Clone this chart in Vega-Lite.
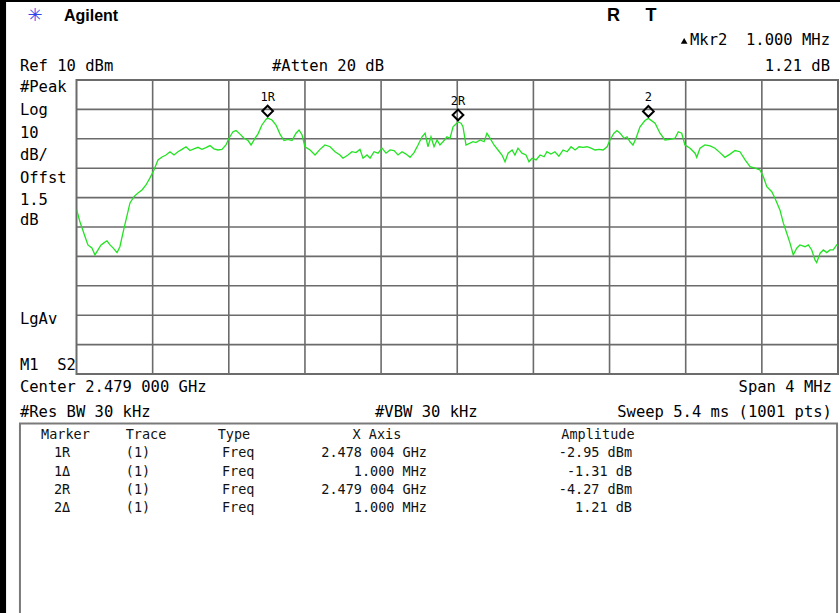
{
  "$schema": "https://vega.github.io/schema/vega-lite/v6.json",
  "width": 761.5,
  "height": 294,
  "autosize": {"type": "none"},
  "padding": {"left": 76.5, "top": 80, "right": 2, "bottom": 239},
  "background": "white",
  "config": {
    "view": {"stroke": "#6b6b6b", "strokeWidth": 2},
    "text": {"font": "DejaVu Sans Mono", "fontSize": 15.5, "color": "#000", "baseline": "middle"}
  },
  "datasets": {
    "trace": [
      {"f":2477.001,"dbm":-34.2},{"f":2477.018,"dbm":-38.2},{"f":2477.045,"dbm":-43.3},{"f":2477.060,"dbm":-46.1},{"f":2477.081,"dbm":-47.1},{"f":2477.097,"dbm":-49.5},{"f":2477.113,"dbm":-47.8},{"f":2477.129,"dbm":-46.1},{"f":2477.144,"dbm":-45.4},{"f":2477.160,"dbm":-44.7},{"f":2477.176,"dbm":-46.1},{"f":2477.192,"dbm":-47.1},{"f":2477.213,"dbm":-48.7},{"f":2477.228,"dbm":-46.7},{"f":2477.244,"dbm":-42.0},{"f":2477.260,"dbm":-37.6},{"f":2477.281,"dbm":-31.8},{"f":2477.302,"dbm":-29.7},{"f":2477.323,"dbm":-28.4},{"f":2477.344,"dbm":-27.4},{"f":2477.365,"dbm":-25.7},{"f":2477.386,"dbm":-23.3},{"f":2477.407,"dbm":-20.6},{"f":2477.428,"dbm":-17.2},{"f":2477.449,"dbm":-16.2},{"f":2477.470,"dbm":-15.5},{"f":2477.491,"dbm":-14.4},{"f":2477.512,"dbm":-15.5},{"f":2477.533,"dbm":-14.4},{"f":2477.554,"dbm":-13.6},{"f":2477.575,"dbm":-12.7},{"f":2477.596,"dbm":-14.0},{"f":2477.617,"dbm":-13.4},{"f":2477.638,"dbm":-12.9},{"f":2477.659,"dbm":-13.6},{"f":2477.680,"dbm":-13.0},{"f":2477.701,"dbm":-12.3},{"f":2477.722,"dbm":-13.4},{"f":2477.743,"dbm":-13.8},{"f":2477.764,"dbm":-13.6},{"f":2477.785,"dbm":-12.1},{"f":2477.801,"dbm":-9.8},{"f":2477.822,"dbm":-7.6},{"f":2477.838,"dbm":-7.2},{"f":2477.859,"dbm":-8.4},{"f":2477.880,"dbm":-9.8},{"f":2477.901,"dbm":-10.6},{"f":2477.917,"dbm":-12.1},{"f":2477.938,"dbm":-9.8},{"f":2477.953,"dbm":-8.4},{"f":2477.974,"dbm":-5.3},{"f":2477.995,"dbm":-3.4},{"f":2478.004,"dbm":-2.95},{"f":2478.027,"dbm":-3.6},{"f":2478.048,"dbm":-5.3},{"f":2478.069,"dbm":-8.4},{"f":2478.090,"dbm":-10.6},{"f":2478.111,"dbm":-10.2},{"f":2478.132,"dbm":-10.6},{"f":2478.153,"dbm":-8.1},{"f":2478.169,"dbm":-7.0},{"f":2478.185,"dbm":-8.7},{"f":2478.200,"dbm":-12.7},{"f":2478.227,"dbm":-13.8},{"f":2478.253,"dbm":-15.5},{"f":2478.279,"dbm":-13.6},{"f":2478.305,"dbm":-12.1},{"f":2478.332,"dbm":-12.7},{"f":2478.358,"dbm":-14.4},{"f":2478.384,"dbm":-15.5},{"f":2478.400,"dbm":-16.6},{"f":2478.426,"dbm":-15.5},{"f":2478.447,"dbm":-14.4},{"f":2478.468,"dbm":-14.7},{"f":2478.489,"dbm":-13.6},{"f":2478.505,"dbm":-16.6},{"f":2478.526,"dbm":-15.5},{"f":2478.542,"dbm":-16.6},{"f":2478.563,"dbm":-14.4},{"f":2478.584,"dbm":-14.9},{"f":2478.605,"dbm":-13.2},{"f":2478.626,"dbm":-14.9},{"f":2478.647,"dbm":-13.8},{"f":2478.668,"dbm":-14.0},{"f":2478.689,"dbm":-15.5},{"f":2478.710,"dbm":-14.4},{"f":2478.731,"dbm":-15.2},{"f":2478.752,"dbm":-16.3},{"f":2478.773,"dbm":-14.7},{"f":2478.794,"dbm":-12.1},{"f":2478.815,"dbm":-9.3},{"f":2478.831,"dbm":-8.1},{"f":2478.846,"dbm":-12.7},{"f":2478.862,"dbm":-9.3},{"f":2478.878,"dbm":-12.7},{"f":2478.894,"dbm":-10.4},{"f":2478.909,"dbm":-12.1},{"f":2478.925,"dbm":-11.0},{"f":2478.946,"dbm":-9.3},{"f":2478.962,"dbm":-9.8},{"f":2478.978,"dbm":-5.9},{"f":2478.993,"dbm":-5.0},{"f":2479.004,"dbm":-4.27},{"f":2479.020,"dbm":-4.7},{"f":2479.030,"dbm":-5.9},{"f":2479.046,"dbm":-12.1},{"f":2479.067,"dbm":-11.5},{"f":2479.083,"dbm":-11.0},{"f":2479.098,"dbm":-11.3},{"f":2479.120,"dbm":-10.4},{"f":2479.141,"dbm":-11.0},{"f":2479.156,"dbm":-8.1},{"f":2479.172,"dbm":-9.8},{"f":2479.193,"dbm":-12.1},{"f":2479.214,"dbm":-13.8},{"f":2479.235,"dbm":-15.5},{"f":2479.251,"dbm":-17.8},{"f":2479.267,"dbm":-14.9},{"f":2479.288,"dbm":-13.8},{"f":2479.303,"dbm":-15.5},{"f":2479.319,"dbm":-13.2},{"f":2479.340,"dbm":-14.9},{"f":2479.361,"dbm":-15.5},{"f":2479.377,"dbm":-17.8},{"f":2479.393,"dbm":-16.6},{"f":2479.414,"dbm":-17.2},{"f":2479.435,"dbm":-15.5},{"f":2479.456,"dbm":-16.1},{"f":2479.471,"dbm":-14.4},{"f":2479.492,"dbm":-15.2},{"f":2479.513,"dbm":-14.4},{"f":2479.534,"dbm":-15.9},{"f":2479.556,"dbm":-13.8},{"f":2479.577,"dbm":-14.4},{"f":2479.598,"dbm":-12.7},{"f":2479.619,"dbm":-13.8},{"f":2479.640,"dbm":-12.7},{"f":2479.661,"dbm":-12.9},{"f":2479.682,"dbm":-12.7},{"f":2479.703,"dbm":-13.2},{"f":2479.724,"dbm":-13.8},{"f":2479.745,"dbm":-13.6},{"f":2479.766,"dbm":-13.8},{"f":2479.787,"dbm":-12.7},{"f":2479.802,"dbm":-10.4},{"f":2479.823,"dbm":-8.1},{"f":2479.839,"dbm":-7.2},{"f":2479.855,"dbm":-8.1},{"f":2479.876,"dbm":-9.8},{"f":2479.892,"dbm":-9.3},{"f":2479.907,"dbm":-11.0},{"f":2479.923,"dbm":-12.1},{"f":2479.939,"dbm":-9.8},{"f":2479.960,"dbm":-5.9},{"f":2479.986,"dbm":-3.8},{"f":2480.004,"dbm":-3.06},{"f":2480.039,"dbm":-4.7},{"f":2480.065,"dbm":-8.1},{"f":2480.091,"dbm":-10.4},{"f":2480.118,"dbm":-10.2},{"f":2480.144,"dbm":-9.8},{"f":2480.161,"dbm":-7.6},{"f":2480.179,"dbm":-8.1},{"f":2480.196,"dbm":-12.1},{"f":2480.223,"dbm":-13.2},{"f":2480.249,"dbm":-14.9},{"f":2480.258,"dbm":-16.3},{"f":2480.275,"dbm":-13.2},{"f":2480.301,"dbm":-12.1},{"f":2480.328,"dbm":-12.4},{"f":2480.354,"dbm":-13.2},{"f":2480.380,"dbm":-14.7},{"f":2480.406,"dbm":-16.3},{"f":2480.433,"dbm":-15.2},{"f":2480.459,"dbm":-14.0},{"f":2480.485,"dbm":-14.4},{"f":2480.512,"dbm":-17.2},{"f":2480.538,"dbm":-19.5},{"f":2480.564,"dbm":-20.0},{"f":2480.590,"dbm":-20.6},{"f":2480.608,"dbm":-22.9},{"f":2480.626,"dbm":-26.3},{"f":2480.652,"dbm":-28.0},{"f":2480.669,"dbm":-30.2},{"f":2480.695,"dbm":-34.2},{"f":2480.713,"dbm":-38.7},{"f":2480.731,"dbm":-42.1},{"f":2480.748,"dbm":-45.5},{"f":2480.765,"dbm":-49.5},{"f":2480.783,"dbm":-47.2},{"f":2480.800,"dbm":-46.1},{"f":2480.827,"dbm":-46.7},{"f":2480.844,"dbm":-46.1},{"f":2480.862,"dbm":-47.8},{"f":2480.879,"dbm":-51.2},{"f":2480.888,"dbm":-52.1},{"f":2480.906,"dbm":-48.9},{"f":2480.923,"dbm":-47.8},{"f":2480.941,"dbm":-48.7},{"f":2480.958,"dbm":-47.8},{"f":2480.975,"dbm":-47.8},{"f":2480.993,"dbm":-46.1},{"f":2481.000,"dbm":-46.5}
    ],
    "vgrid": [{"f": 2477.4}, {"f": 2477.8}, {"f": 2478.2}, {"f": 2478.6}, {"f": 2479.0}, {"f": 2479.4}, {"f": 2479.8}, {"f": 2480.2}, {"f": 2480.6}],
    "hgrid": [{"dbm": 0}, {"dbm": -10}, {"dbm": -20}, {"dbm": -30}, {"dbm": -40}, {"dbm": -50}, {"dbm": -60}, {"dbm": -70}, {"dbm": -80}],
    "markers": [
      {"label": "1R", "f": 2478.004, "dbm": -2.95},
      {"label": "2R", "f": 2479.004, "dbm": -4.27},
      {"label": "2", "f": 2480.004, "dbm": -3.06}
    ],
    "frame": [
      {"f": 2476.4, "f2": 2476.63, "dbm": 40, "dbm2": -200},
      {"f": 2476.4, "f2": 2481.2, "dbm": 40, "dbm2": 36.55}
    ],
    "tablebox": [
      {"f": 2476.703, "f2": 2480.995, "dbm": -106.84, "dbm2": -190}
    ],
    "leftText": [
      {"t": "Ref 10 dBm", "f": 2476.703, "dbm": 14.76},
      {"t": "#Atten 20 dB", "f": 2478.027, "dbm": 14.76},
      {"t": "#Peak", "f": 2476.703, "dbm": 7.72},
      {"t": "Log", "f": 2476.703, "dbm": -0.2},
      {"t": "10", "f": 2476.703, "dbm": -7.93},
      {"t": "dB/", "f": 2476.703, "dbm": -15.51},
      {"t": "Offst", "f": 2476.703, "dbm": -23.44},
      {"t": "1.5", "f": 2476.703, "dbm": -30.82},
      {"t": "dB", "f": 2476.703, "dbm": -37.62},
      {"t": "LgAv", "f": 2476.703, "dbm": -71.39},
      {"t": "M1\u00a0 S2", "f": 2476.703, "dbm": -86.94},
      {"t": "Center 2.479 000 GHz", "f": 2476.703, "dbm": -94.32},
      {"t": "#Res BW 30 kHz", "f": 2476.703, "dbm": -102.82},
      {"t": "#VBW 30 kHz", "f": 2478.568, "dbm": -102.82}
    ],
    "rightText": [
      {"t": "Mkr2\u00a0 1.000 MHz", "f": 2480.958, "dbm": 23.6},
      {"t": "1.21 dB", "f": 2480.958, "dbm": 14.76},
      {"t": "Span 4 MHz", "f": 2480.968, "dbm": -94.32},
      {"t": "Sweep 5.4 ms (1001 pts)", "f": 2480.968, "dbm": -102.82}
    ],
    "delta": [{"f": 2480.192, "dbm": 23.3}],
    "brand": [{"t": "Agilent", "f": 2476.934, "dbm": 31.77}],
    "logo": [{"t": "✳", "f": 2476.782, "dbm": 31.77}],
    "rt": [
      {"t": "R", "f": 2479.821, "dbm": 31.77},
      {"t": "T", "f": 2480.018, "dbm": 31.77}
    ],
    "tableHead": [
      {"t": "Marker", "f": 2476.942, "dbm": -110.75},
      {"t": "Trace", "f": 2477.365, "dbm": -110.75},
      {"t": "Type", "f": 2477.827, "dbm": -110.75},
      {"t": "X Axis", "f": 2478.578, "dbm": -110.75},
      {"t": "Amplitude", "f": 2479.739, "dbm": -110.75}
    ],
    "tableRows": [
      {"marker": "1R", "trace": "(1)", "type": "Freq", "xaxis": "2.478 004 GHz", "amplitude": "-2.95 dBm", "dbm": -116.97},
      {"marker": "1Δ", "trace": "(1)", "type": "Freq", "xaxis": "1.000 MHz", "amplitude": "-1.31 dB", "dbm": -123.23},
      {"marker": "2R", "trace": "(1)", "type": "Freq", "xaxis": "2.479 004 GHz", "amplitude": "-4.27 dBm", "dbm": -129.46},
      {"marker": "2Δ", "trace": "(1)", "type": "Freq", "xaxis": "1.000 MHz", "amplitude": "1.21 dB", "dbm": -135.68}
    ]
  },
  "layer": [
    {
      "data": {"name": "frame"},
      "mark": {"type": "rect", "color": "#000"},
      "encoding": {
        "x": {"field": "f", "type": "quantitative", "axis": null,
              "scale": {"domain": [2477, 2481], "nice": false, "zero": false}},
        "x2": {"field": "f2"},
        "y": {"field": "dbm", "type": "quantitative", "axis": null,
              "scale": {"domain": [-90, 10], "nice": false, "zero": false}},
        "y2": {"field": "dbm2"}
      }
    },
    {
      "data": {"name": "tablebox"},
      "mark": {"type": "rect", "fillOpacity": 0, "stroke": "#7a7a7a", "strokeWidth": 2},
      "encoding": {
        "x": {"field": "f", "type": "quantitative"},
        "x2": {"field": "f2"},
        "y": {"field": "dbm", "type": "quantitative"},
        "y2": {"field": "dbm2"}
      }
    },
    {
      "data": {"name": "vgrid"},
      "mark": {"type": "rule", "color": "#6b6b6b", "strokeWidth": 1.6},
      "encoding": {"x": {"field": "f", "type": "quantitative"}}
    },
    {
      "data": {"name": "hgrid"},
      "mark": {"type": "rule", "color": "#6b6b6b", "strokeWidth": 1.6},
      "encoding": {"y": {"field": "dbm", "type": "quantitative"}}
    },
    {
      "data": {"name": "trace"},
      "mark": {"type": "line", "color": "#22e322", "strokeWidth": 1.3, "clip": true},
      "encoding": {
        "x": {"field": "f", "type": "quantitative"},
        "y": {"field": "dbm", "type": "quantitative"}
      }
    },
    {
      "data": {"name": "markers"},
      "mark": {"type": "point", "shape": "diamond", "filled": false, "stroke": "#000", "strokeWidth": 2, "size": 115, "opacity": 1},
      "encoding": {
        "x": {"field": "f", "type": "quantitative"},
        "y": {"field": "dbm", "type": "quantitative"},
        "yOffset": {"value": -7}
      }
    },
    {
      "data": {"name": "markers"},
      "mark": {"type": "text", "fontSize": 12, "align": "center", "dy": -21},
      "encoding": {
        "x": {"field": "f", "type": "quantitative"},
        "y": {"field": "dbm", "type": "quantitative"},
        "text": {"field": "label"}
      }
    },
    {
      "data": {"name": "leftText"},
      "mark": {"type": "text", "align": "left"},
      "encoding": {
        "x": {"field": "f", "type": "quantitative"},
        "y": {"field": "dbm", "type": "quantitative"},
        "text": {"field": "t"}
      }
    },
    {
      "data": {"name": "rightText"},
      "mark": {"type": "text", "align": "right"},
      "encoding": {
        "x": {"field": "f", "type": "quantitative"},
        "y": {"field": "dbm", "type": "quantitative"},
        "text": {"field": "t"}
      }
    },
    {
      "data": {"name": "delta"},
      "mark": {"type": "point", "shape": "triangle-up", "filled": true, "color": "#000", "size": 45, "opacity": 1},
      "encoding": {
        "x": {"field": "f", "type": "quantitative"},
        "y": {"field": "dbm", "type": "quantitative"}
      }
    },
    {
      "data": {"name": "brand"},
      "mark": {"type": "text", "align": "left", "font": "Liberation Sans", "fontWeight": "bold", "fontSize": 16},
      "encoding": {
        "x": {"field": "f", "type": "quantitative"},
        "y": {"field": "dbm", "type": "quantitative"},
        "text": {"field": "t"}
      }
    },
    {
      "data": {"name": "logo"},
      "mark": {"type": "text", "align": "center", "font": "DejaVu Sans", "fontSize": 18, "color": "#3347e8"},
      "encoding": {
        "x": {"field": "f", "type": "quantitative"},
        "y": {"field": "dbm", "type": "quantitative"},
        "text": {"field": "t"}
      }
    },
    {
      "data": {"name": "rt"},
      "mark": {"type": "text", "align": "center", "font": "Liberation Sans", "fontWeight": "bold", "fontSize": 18},
      "encoding": {
        "x": {"field": "f", "type": "quantitative"},
        "y": {"field": "dbm", "type": "quantitative"},
        "text": {"field": "t"}
      }
    },
    {
      "data": {"name": "tableHead"},
      "mark": {"type": "text", "align": "center", "fontSize": 13.5, "color": "#111"},
      "encoding": {
        "x": {"field": "f", "type": "quantitative"},
        "y": {"field": "dbm", "type": "quantitative"},
        "text": {"field": "t"}
      }
    },
    {
      "data": {"name": "tableRows"},
      "mark": {"type": "text", "align": "center", "fontSize": 13.5, "color": "#111"},
      "encoding": {
        "x": {"datum": 2476.924, "type": "quantitative"},
        "y": {"field": "dbm", "type": "quantitative"},
        "text": {"field": "marker"}
      }
    },
    {
      "data": {"name": "tableRows"},
      "mark": {"type": "text", "align": "center", "fontSize": 13.5, "color": "#111"},
      "encoding": {
        "x": {"datum": 2477.323, "type": "quantitative"},
        "y": {"field": "dbm", "type": "quantitative"},
        "text": {"field": "trace"}
      }
    },
    {
      "data": {"name": "tableRows"},
      "mark": {"type": "text", "align": "left", "fontSize": 13.5, "color": "#111"},
      "encoding": {
        "x": {"datum": 2477.764, "type": "quantitative"},
        "y": {"field": "dbm", "type": "quantitative"},
        "text": {"field": "type"}
      }
    },
    {
      "data": {"name": "tableRows"},
      "mark": {"type": "text", "align": "right", "fontSize": 13.5, "color": "#111"},
      "encoding": {
        "x": {"datum": 2478.841, "type": "quantitative"},
        "y": {"field": "dbm", "type": "quantitative"},
        "text": {"field": "xaxis"}
      }
    },
    {
      "data": {"name": "tableRows"},
      "mark": {"type": "text", "align": "right", "fontSize": 13.5, "color": "#111"},
      "encoding": {
        "x": {"datum": 2479.918, "type": "quantitative"},
        "y": {"field": "dbm", "type": "quantitative"},
        "text": {"field": "amplitude"}
      }
    }
  ]
}
